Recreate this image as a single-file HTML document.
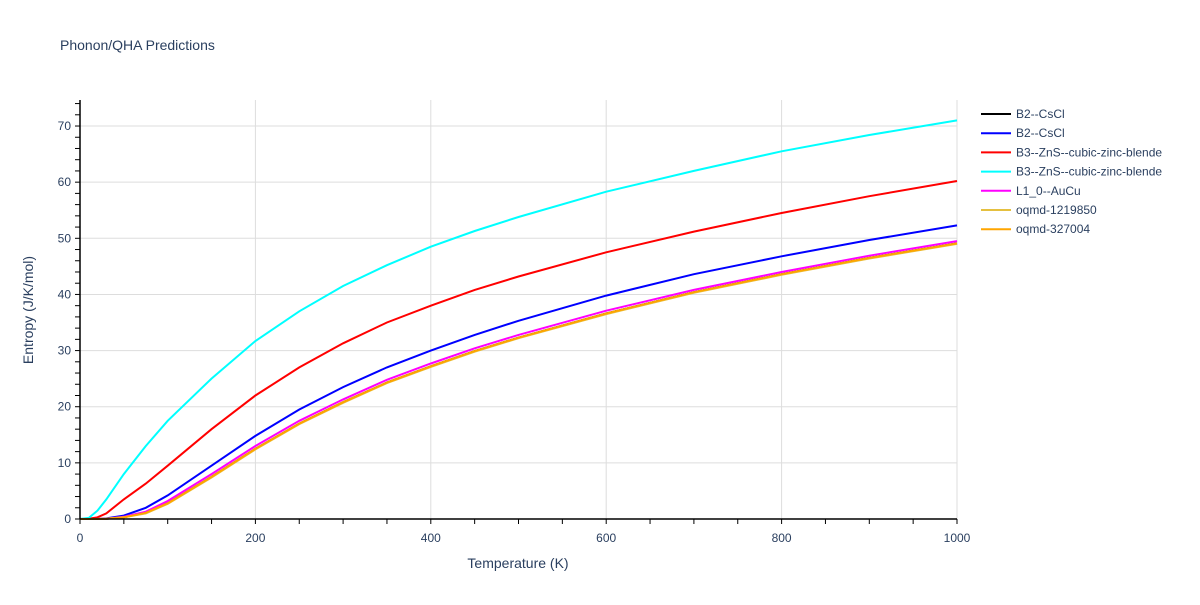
<!DOCTYPE html>
<html><head><meta charset="utf-8"><style>
body{margin:0;background:#fff;font-family:"Liberation Sans",Arial,sans-serif;}
svg text{font-family:"Liberation Sans",Arial,sans-serif;fill:#2a3f5f;}
</style></head><body>
<svg id="chart" width="1200" height="600" xmlns="http://www.w3.org/2000/svg">
<text x="60" y="50" font-size="14">Phonon/QHA Predictions</text>
<g id="grid"></g>
<g id="series"></g>
<g id="axes"></g>
<text x="518" y="568" font-size="14" text-anchor="middle">Temperature (K)</text>
<text transform="translate(33,310) rotate(-90)" font-size="14" text-anchor="middle">Entropy (J/K/mol)</text>
<g id="legend"></g>
</svg>
<script>
const temps = [0,10,20,30,50,75,100,150,200,250,300,350,400,450,500,600,700,800,900,1000];
const cyanVals =   [0,0.2,1.5,3.5,8,13,17.5,25,31.7,37,41.5,45.2,48.5,51.3,53.8,58.3,62,65.5,68.4,71];
const redVals =    [0,0.05,0.3,1,3.5,6.3,9.5,16,22,27,31.3,35,38,40.8,43.2,47.5,51.2,54.5,57.5,60.2];
const blueVals =   [0,0,0,0.1,0.6,2,4.2,9.5,14.8,19.5,23.5,27,30,32.8,35.3,39.8,43.6,46.8,49.7,52.3];
const magVals =    [0,0,0,0.05,0.4,1.3,3.2,8,13,17.5,21.3,24.8,27.7,30.4,32.8,37.1,40.8,44,46.9,49.5];
const orangeVals = [0,0,0,0.03,0.3,1.1,2.8,7.5,12.5,17,20.8,24.3,27.2,29.9,32.3,36.6,40.4,43.6,46.5,49.1];
const yellowVals = [0,0,0,0.03,0.3,1.0,2.7,7.4,12.4,16.9,20.7,24.2,27.1,29.8,32.2,36.5,40.3,43.5,46.4,49.0];
const blackVals =  orangeVals.slice();
const seriesNames = ["B2--CsCl","B2--CsCl","B3--ZnS--cubic-zinc-blende","B3--ZnS--cubic-zinc-blende","L1_0--AuCu","oqmd-1219850","oqmd-327004"];
const seriesColors = ["#000000","#0000ff","#ff0000","#00ffff","#ff00ff","#e5c040","#ffa500"];
const seriesData = [blackVals,blueVals,redVals,cyanVals,magVals,yellowVals,orangeVals];
const xTicks = [0,200,400,600,800,1000];
const yTicks = [0,10,20,30,40,50,60,70];

const X0=80,X1=957,Y0=519,YTOP=100;
const xs=v=>X0+(v/1000)*(X1-X0);
const ys=v=>Y0-v*5.614;
const NS="http://www.w3.org/2000/svg";
function mk(tag,attrs,parent){const e=document.createElementNS(NS,tag);for(const k in attrs)e.setAttribute(k,attrs[k]);parent.appendChild(e);return e;}
const grid=document.getElementById('grid'),axes=document.getElementById('axes'),ser=document.getElementById('series'),leg=document.getElementById('legend');
xTicks.forEach(t=>{if(t>0){const l=mk('line',{x1:xs(t),x2:xs(t),y1:YTOP,y2:Y0,stroke:'#dddddd','stroke-width':1},grid);
}
const tx=mk('text',{x:xs(t),y:Y0+23,'font-size':12,'text-anchor':'middle'},axes);tx.textContent=t;
});
yTicks.forEach(t=>{if(t>0){const l=mk('line',{x1:X0,x2:X1,y1:ys(t),y2:ys(t),stroke:'#dddddd','stroke-width':1},grid);
}
const tx=mk('text',{x:X0-9,y:ys(t)+4,'font-size':12,'text-anchor':'end'},axes);tx.textContent=t;
});
for(let t=0;t<=1000;t+=50){const l=mk('line',{x1:xs(t),x2:xs(t),y1:Y0,y2:Y0+5,stroke:'#000','stroke-width':1},axes);
}
for(let v=0;v<=74;v+=2){const l=mk('line',{x1:X0-5,x2:X0,y1:ys(v),y2:ys(v),stroke:'#000','stroke-width':1},axes);
}
const xa=mk('line',{x1:X0,x2:X1,y1:Y0,y2:Y0,stroke:'#000','stroke-width':1.5},axes);

const ya=mk('line',{x1:X0,x2:X0,y1:YTOP,y2:Y0,stroke:'#000','stroke-width':1.5},axes);

seriesData.forEach((vals,i)=>{const d=vals.map((v,j)=>(j?'L':'M')+xs(temps[j]).toFixed(1)+','+ys(v).toFixed(1)).join(' ');
const p=mk('path',{d:d,fill:'none',stroke:seriesColors[i],'stroke-width':2},ser);


const y=114+i*19.2;
const g=mk('g',{},leg);


mk('line',{x1:981,x2:1011,y1:y,y2:y,stroke:seriesColors[i],'stroke-width':2},g);
const t=mk('text',{x:1016,y:y+4,'font-size':12},g);t.textContent=seriesNames[i];});
</script>
</body></html>
